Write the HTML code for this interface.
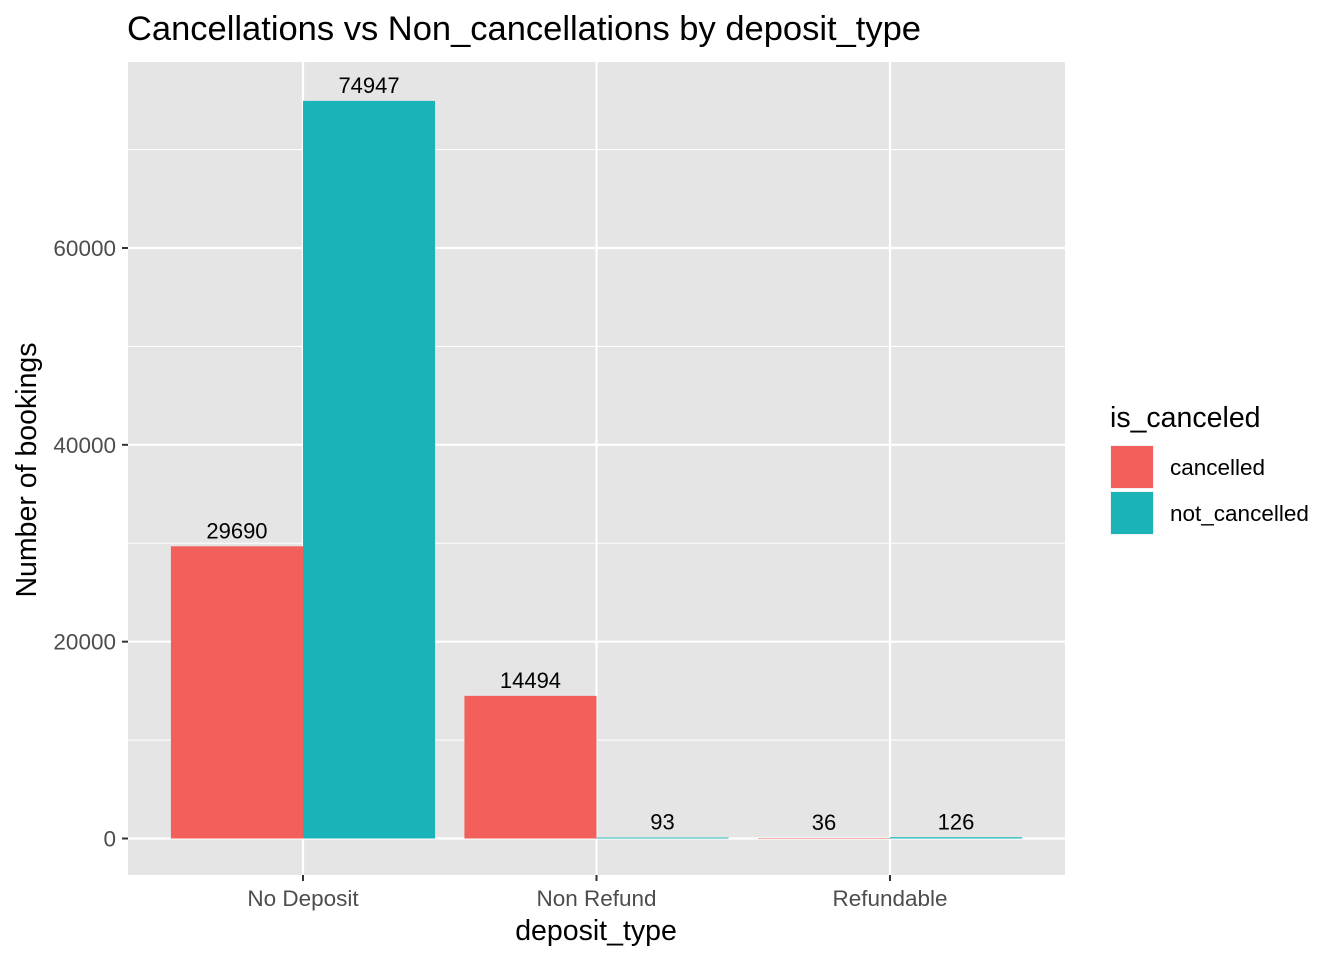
<!DOCTYPE html>
<html><head><meta charset="utf-8"><style>
body{margin:0;background:#fff;}
svg text{font-family:"Liberation Sans",Arial,sans-serif;}
</style></head><body>
<svg id="chart" width="1344" height="960" xmlns="http://www.w3.org/2000/svg">
<text x="127" y="40" font-size="34.5" fill="#000">Cancellations vs Non_cancellations by deposit_type</text>
<rect x="128" y="62" width="937" height="813" fill="#e5e5e5"/>
<g id="grid"></g>
<g id="bars"></g>
<g id="axes"></g>
<text x="596" y="940" font-size="28.5" text-anchor="middle" fill="#000">deposit_type</text>
<text transform="translate(36,470) rotate(-90)" font-size="28.5" text-anchor="middle" fill="#000">Number of bookings</text>
<g>
<text x="1110" y="427" font-size="28.5" fill="#000">is_canceled</text>
<rect x="1110" y="445" width="44" height="44" fill="#f2f2f2"/>
<rect x="1111" y="446" width="42" height="42" fill="#f35f5a"/>
<text x="1170" y="475" font-size="22.5" fill="#000">cancelled</text>
<rect x="1110" y="491" width="44" height="44" fill="#f2f2f2"/>
<rect x="1111" y="492" width="42" height="42" fill="#19b3b8"/>
<text x="1170" y="521" font-size="22.5" fill="#000">not_cancelled</text>
</g>
</svg>
<script>
const categories=["No Deposit","Non Refund","Refundable"];
const cancelled=[29690,14494,36];
const notCancelled=[74947,93,126];
const yTicks=[0,20000,40000,60000];
const yMinor=[10000,30000,50000,70000];
const colors=["#f35f5a","#19b3b8"];
const NS="http://www.w3.org/2000/svg";
const y0=838.5, yScale=(60000)/(838.5-248);
function yPos(v){return y0-v/yScale;}
function xPos(i){return 303+i*293.5;}
const band=293.5*0.9;
function mk(tag,attrs,parent){const e=document.createElementNS(NS,tag);for(const k in attrs)e.setAttribute(k,attrs[k]);parent.appendChild(e);return e;}
const grid=document.getElementById('grid'),bars=document.getElementById('bars'),axes=document.getElementById('axes');
yMinor.forEach(v=>{const l=mk('line',{x1:128,x2:1065,y1:yPos(v),y2:yPos(v),stroke:'#fff','stroke-width':1},grid);

});
yTicks.forEach(v=>{const l=mk('line',{x1:128,x2:1065,y1:yPos(v),y2:yPos(v),stroke:'#fff','stroke-width':2.2},grid);


const t=mk('line',{x1:122,x2:128,y1:yPos(v),y2:yPos(v),stroke:'#333','stroke-width':2},axes);


const tx=mk('text',{x:116,y:yPos(v)+8,'font-size':22.5,'text-anchor':'end',fill:'#4d4d4d'},axes);tx.textContent=v;

});
categories.forEach((c,i)=>{const x=xPos(i);
const l=mk('line',{x1:x,x2:x,y1:62,y2:875,stroke:'#fff','stroke-width':2.2},grid);


const t=mk('line',{x1:x,x2:x,y1:875,y2:881,stroke:'#333','stroke-width':2},axes);


const tx=mk('text',{x:x,y:906,'font-size':22.5,'text-anchor':'middle',fill:'#4d4d4d'},axes);tx.textContent=c;


[cancelled[i],notCancelled[i]].forEach((v,j)=>{const bx=x-band/2+j*band/2;
const r=mk('rect',{x:bx,y:yPos(v),width:band/2,height:Math.max(y0-yPos(v),0.5),fill:colors[j]},bars);


const lb=mk('text',{x:bx+band/4,y:yPos(v)-8,'font-size':22,'text-anchor':'middle',fill:'#000'},bars);lb.textContent=v;

});});
</script>
</body></html>
